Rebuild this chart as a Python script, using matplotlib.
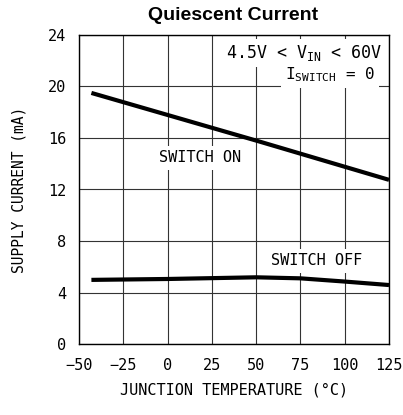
import matplotlib
matplotlib.use("Agg")
import matplotlib.pyplot as plt

temp_on = [-43, 50, 125]
current_on = [19.5, 15.8, 12.75]
temp_off = [-43, 0, 50, 75, 100, 125]
current_off = [4.98, 5.05, 5.18, 5.1, 4.85, 4.58]
xticks = [-50, -25, 0, 25, 50, 75, 100, 125]
yticks = [0, 4, 8, 12, 16, 20, 24]

MONO = "DejaVu Sans Mono"
plt.rcParams["mathtext.fontset"] = "custom"
plt.rcParams["mathtext.rm"] = MONO
plt.rcParams["mathtext.it"] = MONO

fig = plt.figure(figsize=(4.03, 4.15), dpi=100)
ax = fig.add_axes([79/403, 1-344/415, 310/403, 309/415])
ax.set_xlim(-50, 125)
ax.set_ylim(0, 24)
ax.set_xticks(xticks)
ax.set_yticks(yticks)
ax.grid(True, color="#333333", lw=0.8)
ax.tick_params(length=0, labelsize=11, pad=9)
ax.tick_params(axis="x", pad=10)
for lab in ax.get_xticklabels() + ax.get_yticklabels():
    lab.set_family(MONO)
for s in ax.spines.values():
    s.set_linewidth(1.0)
ax.plot(temp_on, current_on, color="black", lw=3, solid_capstyle="butt", zorder=3)
ax.plot(temp_off, current_off, color="black", lw=3, solid_capstyle="butt", zorder=3)

box = dict(facecolor="white", edgecolor="none", pad=3)
ax.text(18.3, 14.45, "SWITCH ON", fontsize=11, family=MONO, ha="center", va="center", bbox=box, zorder=4)
ax.text(84.4, 6.45, "SWITCH OFF", fontsize=11, family=MONO, ha="center", va="center", bbox=box, zorder=4)
ax.text(121, 22.6, r"4.5V < V$_{\mathregular{IN}}$ < 60V", fontsize=12, family=MONO, ha="right", va="center", bbox=box, zorder=4)
ax.text(117, 20.9, r"I$_{\mathregular{SWITCH}}$ = 0", fontsize=11.5, family=MONO, ha="right", va="center", bbox=box, zorder=4)

ax.set_xlabel("JUNCTION TEMPERATURE (°C)", fontsize=11, family=MONO, labelpad=7)
ax.set_ylabel("SUPPLY CURRENT (mA)", fontsize=10.5, family=MONO, labelpad=16)
fig.text(233/403, 1-16/415, "Quiescent Current", fontsize=14, fontweight="bold",
         family="Liberation Sans", ha="center", va="center")
fig.savefig("out.png", dpi=100)
